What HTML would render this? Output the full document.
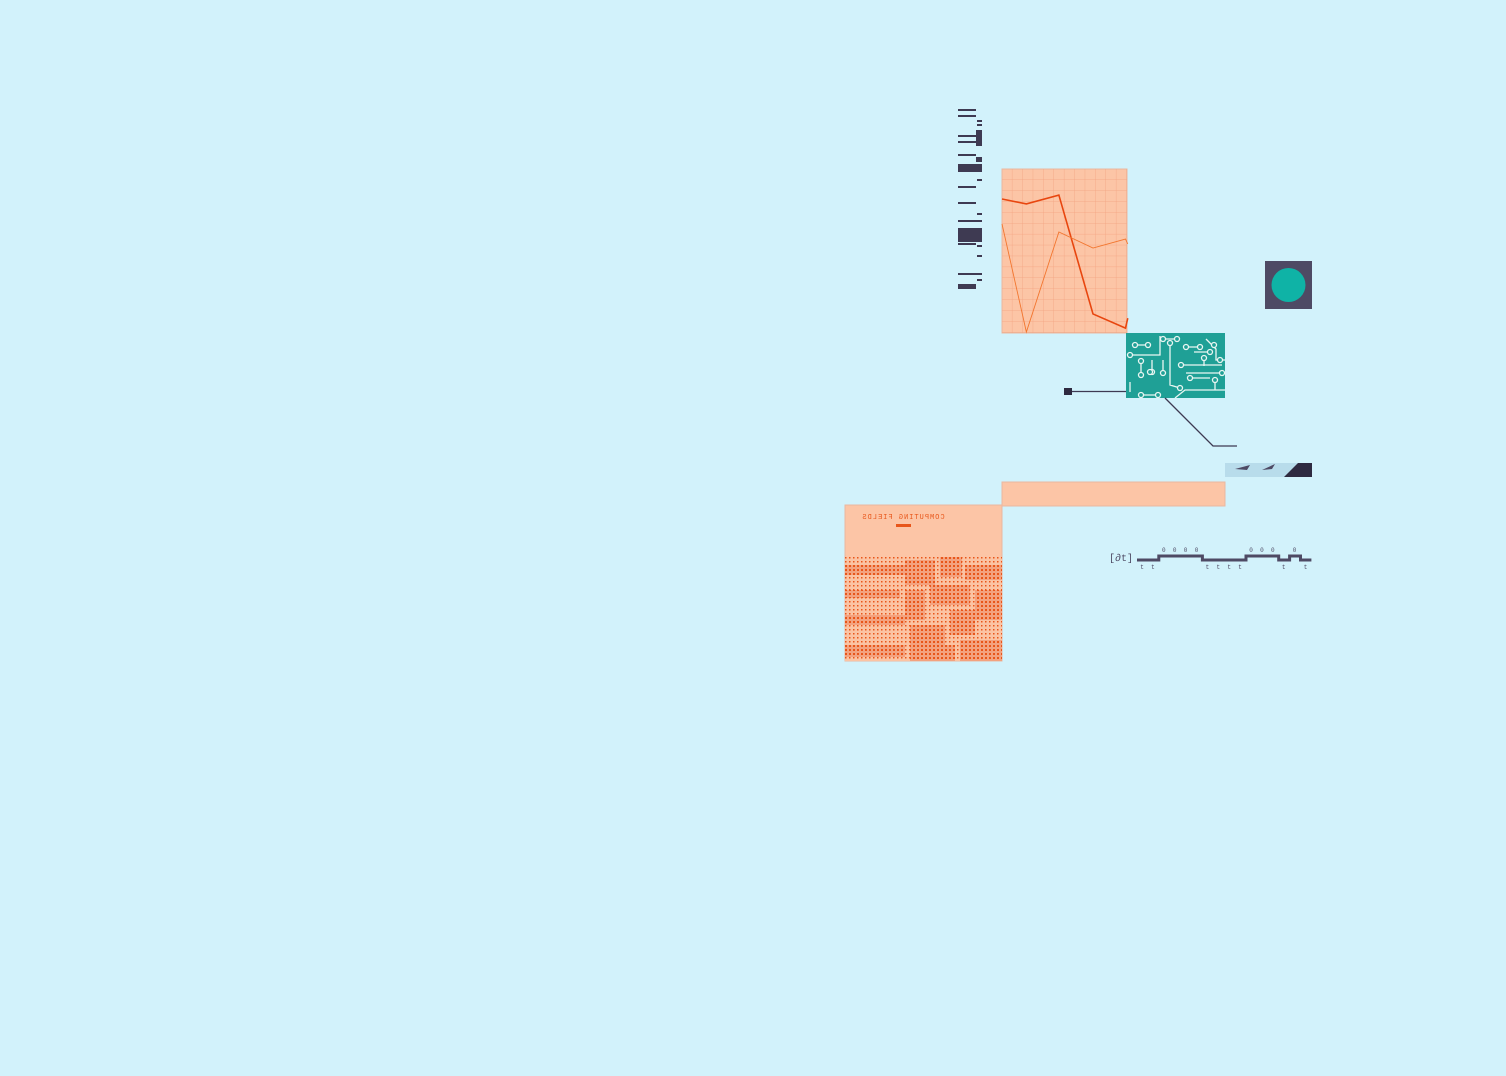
<!DOCTYPE html>
<html><head><meta charset="utf-8"><style>
html,body{margin:0;padding:0;background:#d2f2fb;width:1506px;height:1076px;overflow:hidden}
svg{position:absolute;left:0;top:0}
</style></head><body>
<svg width="1506" height="1076" font-family="Liberation Mono, monospace">
<defs>
<pattern id="grid" width="10.4" height="10.9" patternUnits="userSpaceOnUse" x="1002" y="169">
<path d="M10.4 0V10.9M0 10.9H10.4" stroke="#f3a27f" stroke-width="0.7" fill="none"/></pattern>
<pattern id="dots" width="4" height="4" patternUnits="userSpaceOnUse"><rect width="4" height="4" fill="#f3a27f"/><rect x="1" y="1" width="2" height="2" fill="#e8561a"/></pattern>
<pattern id="dots2" width="4" height="4" patternUnits="userSpaceOnUse"><rect width="4" height="4" fill="#fbc3a3"/><rect x="1" y="1" width="1.5" height="1.5" fill="#e8561a"/></pattern>
</defs>
<g id="barcode" fill="#3e3a52"></g>
<g>
<rect x="1002" y="169" width="125" height="164" fill="#fcc5a6" stroke="#e9b8a0"/>
<rect x="1002" y="169" width="125" height="164" fill="url(#grid)"/>
<g id="lines"></g>
</g>
<g>
<rect x="1126" y="333" width="99" height="65" fill="#1fa096"/>
<g stroke="#e9f6f2" stroke-width="1.3" fill="none">
<path d="M1135 345H1148M1163 339H1177M1186 347H1200M1206 339L1216 349V360H1225M1130 355H1160V336M1141 361V375M1152 360V372M1163 373V360M1170 343V385L1180 388M1181 365H1222M1186 373H1225M1190 378H1210M1194 352H1210M1204 358V366M1130 382V392M1141 395L1158 395M1175 398L1185 390H1225M1215 380V390"/>
</g>
<g fill="#1fa096" stroke="#e9f6f2" stroke-width="1.3" id="pads"></g>
</g>
<rect x="1064" y="388" width="8" height="7" fill="#2e2a40"/>
<path d="M1072 391.5H1126M1165 398L1213 446H1237" stroke="#3e3a52" stroke-width="1.3" fill="none"/>
<g><rect x="1265" y="261" width="47" height="48" fill="#4e4a64"/><circle cx="1288.5" cy="285" r="17" fill="#0fb3a6"/></g>
<g><rect x="1225" y="463" width="87" height="14" fill="#b8dceb"/><path d="M1284 477L1298 463H1312V477Z" fill="#2e2a40"/><path d="M1235 469L1250 465L1247 470ZM1262 470L1275 464L1272 469ZM1255 466L1258 471" fill="#4e4a64"/></g>
<rect x="1002" y="482" width="223" height="24" fill="#fcc5a6" stroke="#e9b8a0"/>
<g>
<rect x="845" y="505" width="157" height="156" fill="#fcc5a6" stroke="#e9b8a0"/>
<text x="903" y="519" font-size="7" fill="#e8561a" text-anchor="middle" letter-spacing="1" transform="scale(-1,1) translate(-1806,0)">COMPUTING FIELDS</text>
<rect x="896" y="524" width="15" height="3" fill="#e8561a"/>
<rect x="845" y="557" width="157" height="104" fill="url(#dots2)"/>
<g id="blocks"></g>
</g>
<g>
<text x="1121" y="561" font-size="10" fill="#4e4a64" text-anchor="middle">[∂t]</text>
<g id="steps"></g>
</g>
</svg>
<script>
const NS='http://www.w3.org/2000/svg';
function mk(tag,attrs,parent){const e=document.createElementNS(NS,tag);for(const k in attrs)e.setAttribute(k,attrs[k]);parent.appendChild(e);return e;}
// line chart data
const xVals=[0,0.75,1.75,2.8,3.8,3.87];
const seriesMain=[81.7,78.7,84.1,11.6,3,9];
const seriesSub=[66.5,0.6,61.6,51.8,57.3,54.3];
const xS=v=>1002+v*32.5, yS=v=>333-v*1.64;
const lines=document.getElementById('lines');
[[seriesMain,1.6,'#e8460f','series-main'],[seriesSub,0.9,'#f2762f','series-sub']].forEach(([s,w,c,n])=>{
 const p=mk('polyline',{points:s.map((v,i)=>xS(xVals[i])+','+yS(v)).join(' '),fill:'none',stroke:c,'stroke-width':w},lines);
 
 
});
// barcode
const bc=document.getElementById('barcode');
const bars=[[958,109,18,2],[958,115,18,2],[977,120,5,2],[977,124,5,2],[958,135,18,2],[976,130,6,16],[958,141,18,2],[977,144,5,2],[958,154,18,2],[976,157,6,5],[958,164,24,8],[977,179,5,2],[958,186,18,2],[958,202,18,2],[977,213,5,2],[958,220,24,2],[958,228,24,14],[958,243,18,2],[977,245,5,2],[977,255,5,2],[958,273,24,2],[977,279,5,2],[958,284,18,5]];
bars.forEach(b=>{const r=mk('rect',{x:b[0],y:b[1],width:b[2],height:b[3]},bc);});
// pads
const pads=document.getElementById('pads');
[[1135,345],[1148,345],[1163,339],[1177,339],[1186,347],[1200,347],[1210,352],[1141,361],[1141,375],[1152,372],[1163,373],[1170,343],[1181,365],[1190,378],[1204,358],[1215,380],[1214,345],[1220,360],[1130,355],[1150,372],[1141,395],[1158,395],[1180,388],[1222,373]].forEach(p=>mk('circle',{cx:p[0],cy:p[1],r:2.5},pads));
// blocks
const bl=document.getElementById('blocks');
[[905,560,30,25],[940,557,22,20],[965,565,37,15],[905,590,20,30],[930,585,40,20],[975,590,27,30],[910,625,35,36],[950,610,25,25],[960,640,42,21],[930,645,25,16],[845,565,60,10],[845,590,55,8],[845,615,60,10],[845,645,60,12]].forEach(b=>mk('rect',{x:b[0],y:b[1],width:b[2],height:b[3],fill:'url(#dots)'},bl));
// timeline
const steps=[0,0,1,1,1,1,0,0,0,0,1,1,1,0,1,0];
const st=document.getElementById('steps');
const x0=1137,dx=10.9;
let d='';
steps.forEach((v,i)=>{const y=v?556:560;d+=(i?'L':'M')+(x0+i*dx)+' '+y+'H'+(x0+(i+1)*dx);
 const t=mk('text',{x:x0+i*dx+5,y:v?552:569,'font-size':6,fill:'#4e4a64','text-anchor':'middle'},st);t.textContent=v?'0':'t';});
const path=mk('path',{d:d,stroke:'#4e4a64','stroke-width':3,fill:'none'},st);


</script>
</body></html>
